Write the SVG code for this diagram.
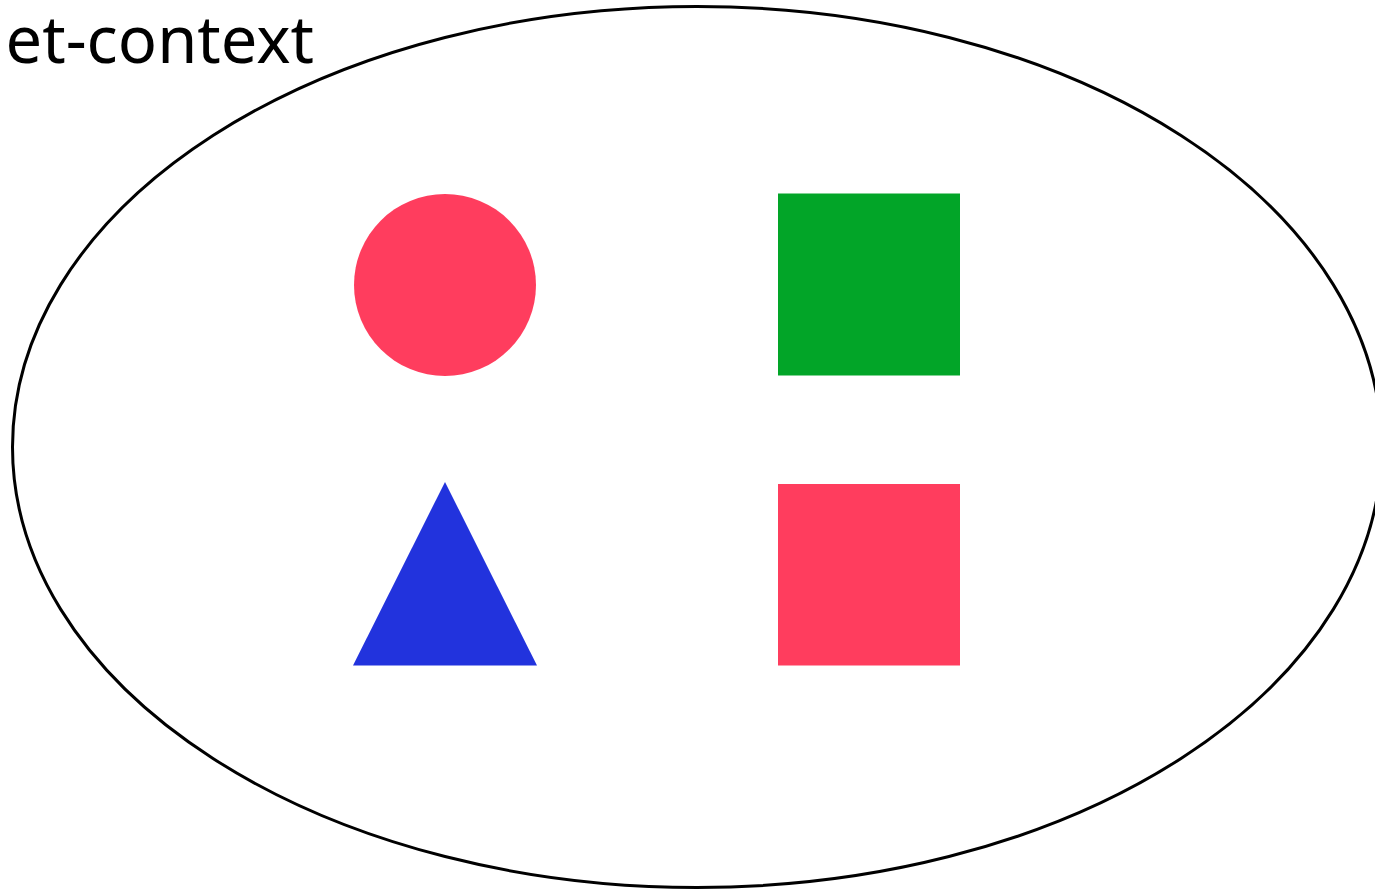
<svg xmlns="http://www.w3.org/2000/svg" width="1375" height="890" viewBox="0 0 1375 890">
<style>
.lbl{font-family:"Noto Sans","DejaVu Sans",sans-serif;font-size:65px;fill:#000}
</style>
<rect width="1375" height="890" fill="#fff"/>
<g id="context">
<ellipse cx="697" cy="447" rx="684.5" ry="440.5" fill="none" stroke="#000" stroke-width="3"/>
<text class="lbl" x="314" y="63" text-anchor="end">et-context</text>
</g>
<g id="circle"><circle cx="445" cy="285" r="91" fill="#FF3D5E"/></g>
<g id="green-square"><rect x="778" y="193.5" width="182" height="182" fill="#02A528"/></g>
<g id="triangle"><polygon points="445,482 353,665.5 537,665.5" fill="#2233DD"/></g>
<g id="red-square"><rect x="778" y="484" width="182" height="181.5" fill="#FF3D5E"/></g>
<g id="connectors"/>
</svg>
